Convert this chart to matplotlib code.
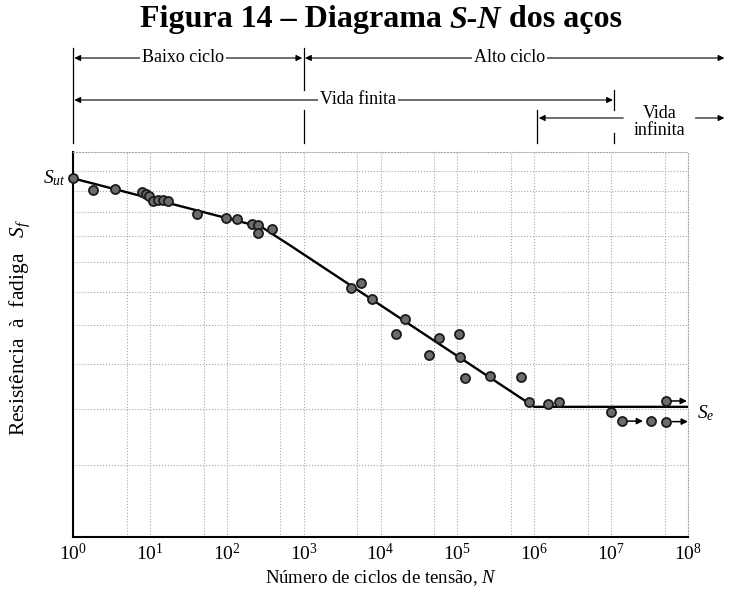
import matplotlib.pyplot as plt
from matplotlib.ticker import NullLocator, NullFormatter, FixedLocator
from matplotlib.transforms import blended_transform_factory

plt.rcParams['font.family'] = ['Liberation Serif', 'DejaVu Serif']
plt.rcParams['mathtext.fontset'] = 'custom'
plt.rcParams['mathtext.rm'] = 'Liberation Serif'
plt.rcParams['mathtext.it'] = 'Liberation Serif:italic'
plt.rcParams['mathtext.bf'] = 'Liberation Serif:bold'

# DADOS
N_ensaios = [1, 1.8, 3.5, 7.9, 8.9, 9.7, 10.9, 12.7, 14.8, 17.2, 41, 97, 137,
             211, 252, 257, 384, 4100, 5500, 7800, 15700, 20800, 42600, 57400,
             104500, 107700, 125000, 264600, 679000, 858000, 1.52e6, 2.08e6,
             1.01e7]
S_ensaios = [126, 120.1, 120.5, 119.4, 118.4, 117.2, 114.9, 115.4, 115.4, 115.1,
             109.4, 107.3, 107.0, 104.9, 104.4, 101.4, 102.7, 81.4, 82.9, 77.6,
             67.7, 71.9, 62.1, 66.5, 67.7, 61.7, 56.6, 57.1, 57.0, 51.4, 51.1,
             51.5, 49.4]
# corpos de prova que não romperam (com seta)
N_runout = [1.37e7, 3.35e7, 5.1e7, 5.25e7]
S_runout = [47.7, 47.7, 51.7, 47.6]
seta_runout = [True, False, True, True]

N_curva = [1, 287, 663, 1e6, 1e8]
S_curva = [126, 103.6, 96.4, 50.5, 50.5]
S_ut = 126
S_e = 50.5

decadas = [10.0 ** k for k in range(9)]
rotulos_x = ['$10^{%d}$' % k for k in range(9)]
grade_x_menor = [5 * 10.0 ** k for k in range(8)]
grade_y = [40, 50, 60, 70, 80, 90, 100, 110, 120, 130]

# FIGURA
fig = plt.figure(figsize=(7.29, 5.92), dpi=100)
ax = fig.add_axes([73 / 729, 1 - 537 / 592, 615 / 729, 385 / 592])
ax.set_xscale('log')
ax.set_yscale('log')
ax.set_xlim(1, 1e8)
ax.set_ylim(30, 140)

ax.xaxis.set_major_locator(FixedLocator(decadas))
ax.xaxis.set_minor_locator(FixedLocator(grade_x_menor))
ax.xaxis.set_minor_formatter(NullFormatter())
ax.set_xticklabels(rotulos_x)
ax.yaxis.set_major_locator(FixedLocator(grade_y))
ax.yaxis.set_major_formatter(NullFormatter())
ax.yaxis.set_minor_locator(NullLocator())
ax.tick_params(which='both', length=0, labelsize=14, pad=4)

cor_grade = '#a8a8a8'
ax.grid(True, which='both', axis='x', color=cor_grade, ls=':', lw=0.8)
ax.grid(True, which='major', axis='y', color=cor_grade, ls=':', lw=0.8)
for lado in ['left', 'bottom']:
    ax.spines[lado].set_linewidth(1.5)
for lado in ['top', 'right']:
    ax.spines[lado].set_color(cor_grade)
    ax.spines[lado].set_linestyle(':')
    ax.spines[lado].set_linewidth(0.8)

# curva S-N e pontos
ax.plot(N_curva, S_curva, color='black', lw=1.7, zorder=3)
ax.plot(N_ensaios, S_ensaios, 'o', ms=6.5, mfc='#6b6b6b', mec='#1a1a1a',
        mew=1.3, zorder=4, clip_on=False)
ax.plot(N_runout, S_runout, 'o', ms=6.5, mfc='#6b6b6b', mec='#1a1a1a',
        mew=1.3, zorder=4, clip_on=False)
for n, s, seta in zip(N_runout, S_runout, seta_runout):
    if seta:
        ax.annotate('', xy=(n * 1.9, s), xytext=(n * 1.2, s),
                    arrowprops=dict(arrowstyle='-|>', color='black', lw=1.1,
                                    mutation_scale=9, shrinkA=0, shrinkB=0),
                    annotation_clip=False, zorder=5)

ax.set_xlabel('Número de ciclos de tensão, $N$', fontsize=13.5, labelpad=3)
ax.set_ylabel('Resistência  à  fadiga   $S_f$', fontsize=15.5)
ax.yaxis.set_label_coords(-0.066, 0.545)

mix = blended_transform_factory(ax.transAxes, ax.transData)
ax.text(-0.012, S_ut, '$S_{ut}$', transform=mix, ha='right', va='center', fontsize=14)
ax.text(1.014, S_e - 1.2, '$S_e$', transform=mix, ha='left', va='center', fontsize=14)

# faixas de vida acima do gráfico
def fy(py):
    return 1 - py / 592

topo = blended_transform_factory(ax.transData, fig.transFigure)
for x, y0, y1 in [(1, 48, 143), (1e3, 48, 90), (1e3, 110, 143), (1.1e6, 110, 143),
                  (1.1e7, 90, 110), (1.1e7, 133, 143)]:
    ax.plot([x, x], [fy(y0), fy(y1)], color='black', lw=0.9, transform=topo, clip_on=False)

def seta(x0, x1, py, estilo):
    ax.annotate('', xy=(x1, fy(py)), xytext=(x0, fy(py)),
                xycoords=('data', 'figure fraction'), textcoords=('data', 'figure fraction'),
                arrowprops=dict(arrowstyle=estilo, color='black', lw=0.8,
                                mutation_scale=9, shrinkA=1, shrinkB=1),
                annotation_clip=False)

caixa = dict(facecolor='white', edgecolor='none', pad=1.5)
seta(1, 1e3, 58, '<|-|>')
ax.text(27, fy(58), 'Baixo ciclo', transform=topo, ha='center', va='center', fontsize=13, bbox=caixa)
seta(1e3, 3.1e8, 58, '<|-|>')
ax.text(4.8e5, fy(58), 'Alto ciclo', transform=topo, ha='center', va='center', fontsize=13, bbox=caixa)
seta(1, 1.1e7, 100, '<|-|>')
ax.text(5100, fy(100), 'Vida finita', transform=topo, ha='center', va='center', fontsize=13, bbox=caixa)
seta(1.5e7, 1.1e6, 118, '-|>')
seta(1.2e8, 3.1e8, 118, '-|>')
ax.text(4.3e7, fy(122), 'Vida\ninfinita', transform=topo, ha='center', va='center',
        fontsize=13, linespacing=1.0)

# título com partes em itálico
def titulo_misto(partes, xc, y, tamanho):
    r = fig.canvas.get_renderer()
    textos = [fig.text(0, y, t, fontsize=tamanho, fontweight='bold', style=s, va='center')
              for t, s in partes]
    larg = [t.get_window_extent(r).width for t in textos]
    espaco = tamanho * 0.25 * fig.dpi / 72
    x = xc * fig.bbox.width - (sum(larg) + espaco * (len(textos) - 1)) / 2
    for t, w in zip(textos, larg):
        t.set_x(x / fig.bbox.width)
        x += w + espaco

titulo_misto([('Figura 14 – Diagrama', 'normal'), ('S-N', 'italic'), ('dos aços', 'normal')],
             381 / 729, fy(20), 23)

fig.savefig('out.png', dpi=100)
